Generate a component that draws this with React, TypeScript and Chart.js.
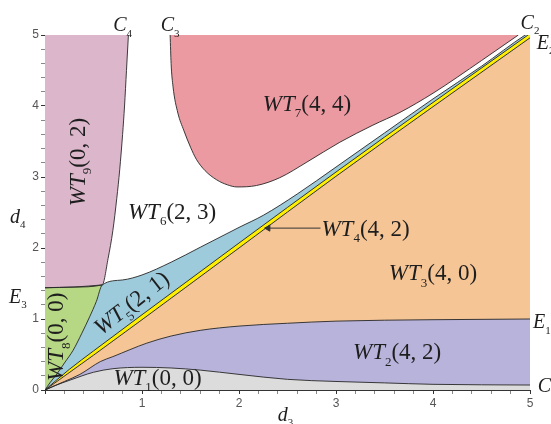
import React, { useEffect, useRef } from 'react';
import { Chart, registerables } from 'chart.js';

Chart.register(...registerables);

type P = { x: number; y: number };

// Boundary curves (d3 on x, d4 on y)
const grayTop: P[] = [
  { x: 0, y: 0 }, { x: 0.1, y: 0.06 }, { x: 0.26, y: 0.14 }, { x: 0.5, y: 0.25 },
  { x: 0.7, y: 0.3 }, { x: 1.0, y: 0.32 }, { x: 1.3, y: 0.31 }, { x: 1.6, y: 0.28 },
  { x: 2.0, y: 0.22 }, { x: 2.5, y: 0.15 }, { x: 3.0, y: 0.12 }, { x: 3.5, y: 0.1 },
  { x: 4.0, y: 0.08 }, { x: 5.0, y: 0.07 },
];
const purpleTop: P[] = [
  { x: 0, y: 0 }, { x: 0.2, y: 0.12 }, { x: 0.36, y: 0.22 }, { x: 0.57, y: 0.4 },
  { x: 0.7, y: 0.47 }, { x: 1.05, y: 0.66 }, { x: 1.3, y: 0.76 }, { x: 1.6, y: 0.84 },
  { x: 2.0, y: 0.9 }, { x: 2.5, y: 0.94 }, { x: 3.0, y: 0.97 }, { x: 4.0, y: 0.99 },
  { x: 5.0, y: 1.0 },
];
const yellowLow: P[] = [
  { x: 0, y: 0 }, { x: 0.5, y: 0.49 }, { x: 1, y: 0.99 }, { x: 2, y: 2.0 },
  { x: 3, y: 3.01 }, { x: 4, y: 3.99 }, { x: 5, y: 4.96 },
];
const yellowHigh: P[] = [
  { x: 0, y: 0 }, { x: 0.25, y: 0.29 }, { x: 0.5, y: 0.55 }, { x: 1, y: 1.06 },
  { x: 2, y: 2.07 }, { x: 3, y: 3.07 }, { x: 4, y: 4.05 }, { x: 5, y: 5.02 },
];
const e3Curve: P[] = [
  { x: 0, y: 1.44 }, { x: 0.3, y: 1.45 }, { x: 0.59, y: 1.48 }, { x: 0.8, y: 1.55 },
  { x: 1.0, y: 1.62 }, { x: 1.3, y: 1.8 }, { x: 1.6, y: 2.01 }, { x: 2.0, y: 2.29 },
  { x: 2.25, y: 2.46 }, { x: 2.6, y: 2.76 }, { x: 3.0, y: 3.14 }, { x: 3.5, y: 3.62 },
  { x: 4.0, y: 4.1 }, { x: 4.5, y: 4.56 }, { x: 4.95, y: 5.0 }, { x: 5.0, y: 5.04 },
];
const c4Curve: P[] = [
  { x: 0, y: 0 }, { x: 0.05, y: 0.1 }, { x: 0.13, y: 0.24 }, { x: 0.2, y: 0.38 },
  { x: 0.29, y: 0.56 }, { x: 0.38, y: 0.8 }, { x: 0.46, y: 1.03 }, { x: 0.53, y: 1.25 },
  { x: 0.59, y: 1.48 }, { x: 0.65, y: 1.85 }, { x: 0.7, y: 2.25 }, { x: 0.74, y: 2.7 },
  { x: 0.77, y: 3.1 }, { x: 0.8, y: 3.6 }, { x: 0.82, y: 4.0 }, { x: 0.84, y: 4.5 },
  { x: 0.86, y: 5.0 },
];
const c3Curve: P[] = [
  { x: 1.29, y: 5.0 }, { x: 1.3, y: 4.6 }, { x: 1.32, y: 4.27 }, { x: 1.37, y: 3.9 },
  { x: 1.43, y: 3.66 }, { x: 1.5, y: 3.42 }, { x: 1.56, y: 3.25 }, { x: 1.65, y: 3.09 },
  { x: 1.77, y: 2.96 }, { x: 1.88, y: 2.89 }, { x: 1.98, y: 2.86 }, { x: 2.18, y: 2.88 },
  { x: 2.42, y: 2.99 }, { x: 2.7, y: 3.21 }, { x: 3.04, y: 3.49 }, { x: 3.38, y: 3.73 },
  { x: 3.66, y: 3.91 }, { x: 4.0, y: 4.18 }, { x: 4.5, y: 4.64 }, { x: 4.88, y: 5.0 },
];
const arrowLine: P[] = [{ x: 2.3, y: 2.28 }, { x: 2.84, y: 2.28 }];

const junctionX = 0.59;

// Region labels: name, subscript, arguments, position (data units), rotation
const regionNames = ['WT', 'WT', 'WT', 'WT', 'WT', 'WT', 'WT', 'WT', 'WT'];
const regionSubs = ['7', '9', '6', '4', '3', '2', '1', '5', '8'];
const regionArgs = ['(4, 4)', '(0, 2)', '(2, 3)', '(4, 2)', '(4, 0)', '(4, 2)', '(0, 0)', '(2, 1)', '(0, 0)'];
const regionX = [2.7, 0.33, 1.31, 2.85, 4.0, 3.63, 1.16, 0.89, 0.11];
const regionY = [4.04, 3.21, 2.52, 2.28, 1.65, 0.54, 0.18, 1.23, 0.75];
const regionRot = [0, -90, 0, 0, 0, 0, 0, -38, -90];
const regionAlign = ['center', 'center', 'center', 'left', 'center', 'center', 'center', 'center', 'center'];

// Curve / axis names around the plot
const edgeMain = ['C', 'C', 'C', 'E', 'E', 'E', 'C', 'd', 'd'];
const edgeSub = ['4', '3', '2', '2', '3', '1', '1', '4', '3'];
const edgeX = [0.8, 1.29, 5.0, 5.07, -0.28, 5.03, 5.08, -0.28, 2.48];
const edgeY = [5.15, 5.15, 5.18, 4.9, 1.32, 0.96, 0.06, 2.45, -0.34];
const edgeAlign = ['center', 'center', 'center', 'left', 'center', 'left', 'left', 'center', 'center'];

const COLORS = {
  gray: '#dcdcdc',
  purple: '#b8b3db',
  orange: '#f5c596',
  yellow: '#fff000',
  blue: '#9dcbdc',
  green: '#b6d884',
  pink9: '#dcb7cc',
  pink7: '#eb9aa2',
  line: 'rgba(40,40,40,0.9)',
};

const SERIF = '"Liberation Serif", "Times New Roman", serif';

type Part = { t: string; it?: boolean; sub?: boolean };

function drawRich(ctx: CanvasRenderingContext2D, parts: Part[], size: number, cx: number, cy: number, rot: number, align: string) {
  const fontFor = (p: Part) => `${p.it ? 'italic ' : ''}${p.sub ? Math.round(size * 0.55) : size}px ${SERIF}`;
  let total = 0;
  const widths = parts.map((p) => {
    ctx.font = fontFor(p);
    const w = ctx.measureText(p.t).width;
    total += w;
    return w;
  });
  ctx.save();
  ctx.translate(cx, cy);
  ctx.rotate((rot * Math.PI) / 180);
  ctx.fillStyle = '#1e1e1e';
  ctx.textAlign = 'left';
  ctx.textBaseline = 'alphabetic';
  let xx = align === 'left' ? 0 : -total / 2;
  const base = size * 0.33;
  parts.forEach((p, i) => {
    ctx.font = fontFor(p);
    ctx.fillText(p.t, xx, base + (p.sub ? size * 0.28 : 0));
    xx += widths[i];
  });
  ctx.restore();
}

const labelPlugin = {
  id: 'richLabels',
  afterDraw(chart: any) {
    const { ctx } = chart;
    const xs = chart.scales.x;
    const ys = chart.scales.y;
    regionNames.forEach((n, i) => {
      drawRich(
        ctx,
        [{ t: n, it: true }, { t: regionSubs[i], sub: true }, { t: regionArgs[i] }],
        23,
        xs.getPixelForValue(regionX[i]),
        ys.getPixelForValue(regionY[i]),
        regionRot[i],
        regionAlign[i],
      );
    });
    edgeMain.forEach((m, i) => {
      drawRich(
        ctx,
        [{ t: m, it: true }, { t: edgeSub[i], sub: true }],
        20,
        xs.getPixelForValue(edgeX[i]),
        ys.getPixelForValue(edgeY[i]),
        0,
        edgeAlign[i],
      );
    });
  },
};

const isInt = (v: number) => Math.abs(v - Math.round(v)) < 1e-6;

export default function App() {
  const ref = useRef<HTMLCanvasElement | null>(null);

  useEffect(() => {
    if (!ref.current) return;
    const blueTop = [
      ...c4Curve.filter((p) => p.x <= junctionX),
      ...e3Curve.filter((p) => p.x > junctionX),
    ];
    const greenTop = e3Curve.filter((p) => p.x <= junctionX);
    const pink9Edge = [
      ...e3Curve.filter((p) => p.x < junctionX),
      ...c4Curve.filter((p) => p.x >= junctionX),
    ];
    const area = (data: P[], color: string, fill: string, extra: any = {}) => ({
      data,
      backgroundColor: color,
      borderColor: COLORS.line,
      borderWidth: 1,
      pointRadius: 0,
      fill,
      cubicInterpolationMode: 'monotone',
      ...extra,
    });
    const chart = new Chart(ref.current, {
      type: 'line',
      data: {
        datasets: [
          {
            data: arrowLine,
            borderColor: '#333',
            borderWidth: 1,
            fill: false,
            pointRadius: [3.5, 0],
            pointStyle: 'triangle',
            pointRotation: -90,
            pointBackgroundColor: '#333',
            pointBorderColor: '#333',
          },
          area(grayTop, COLORS.gray, 'start'),
          area(purpleTop, COLORS.purple, 'start'),
          area(yellowLow, COLORS.orange, 'start', { borderColor: '#333' }),
          area(yellowHigh, COLORS.yellow, 'start', { borderColor: '#333' }),
          area(blueTop, COLORS.blue, 'start'),
          area(greenTop, COLORS.green, 'start'),
          area(pink9Edge, COLORS.pink9, 'end'),
          area(c3Curve, COLORS.pink7, 'end'),
        ] as any,
      },
      options: {
        responsive: false,
        animation: false,
        events: [],
        layout: { padding: { top: 35, right: 21, left: 0, bottom: 0 } },
        plugins: {
          legend: { display: false },
          tooltip: { enabled: false },
          filler: { drawTime: 'beforeDatasetsDraw' },
        } as any,
        scales: {
          x: {
            type: 'linear',
            min: 0,
            max: 5,
            afterFit: (s: any) => { s.height = 34; },
            border: { display: true, color: '#333', width: 1 },
            grid: {
              drawOnChartArea: false,
              drawTicks: true,
              tickLength: 4,
              tickColor: (c: any) => (isInt(c.tick?.value ?? 0) ? '#333' : '#888'),
            },
            ticks: {
              stepSize: 0.2,
              autoSkip: false,
              maxRotation: 0,
              padding: 2,
              color: '#555',
              font: { family: '"Liberation Sans", sans-serif', size: 12 },
              callback: (v: any) => (isInt(v) && Math.round(v) !== 0 ? String(Math.round(v)) : ''),
            },
          },
          y: {
            type: 'linear',
            min: 0,
            max: 5,
            afterFit: (s: any) => { s.width = 45; },
            border: { display: true, color: '#333', width: 1 },
            grid: {
              drawOnChartArea: false,
              drawTicks: true,
              tickLength: 4,
              tickColor: (c: any) => (isInt(c.tick?.value ?? 0) ? '#333' : '#888'),
            },
            ticks: {
              stepSize: 0.2,
              autoSkip: false,
              padding: 2,
              color: '#555',
              font: { family: '"Liberation Sans", sans-serif', size: 12 },
              callback: (v: any) => (isInt(v) ? String(Math.round(v)) : ''),
            },
          },
        },
      } as any,
      plugins: [labelPlugin],
    });
    return () => chart.destroy();
  }, []);

  return (
    <div style={{ position: 'absolute', left: 0, top: 0, width: 551, height: 424, background: '#fff' }}>
      <canvas ref={ref} width={551} height={424} style={{ display: 'block' }} />
    </div>
  );
}
